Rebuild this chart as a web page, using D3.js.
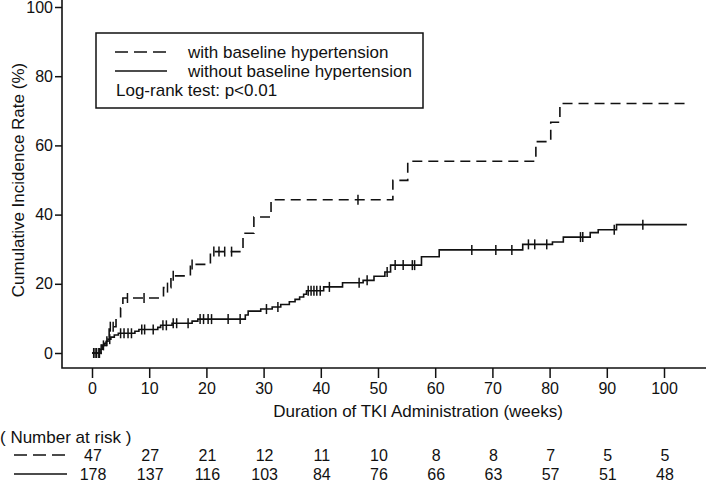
<!DOCTYPE html>
<html>
<head>
<meta charset="utf-8">
<script src="https://cdn.jsdelivr.net/npm/d3@7/dist/d3.min.js"></script>
<style>
	html, body { margin: 0; padding: 0; background: #fff; }
	svg { display: block; font-family: Arial, "Liberation Sans", sans-serif; }
	.axis text { font-size: 16px; fill: #111; }
	.axis line { stroke: #111; stroke-width: 1.5; }
</style>
</head>
<body>
<svg id="chart" width="709" height="484"></svg>
<script>

// ticks
var xTicks = [ 0, 10, 20, 30, 40, 50, 60, 70, 80, 90, 100 ];
var yTicks = [ 0, 20, 40, 60, 80, 100 ];

// last follow-up (weeks)
var endTime = 104;

// with baseline hypertension: [ week, cumulative % after event ]
var withEvents = [
	[ 1.8, 2.2 ], [ 2.5, 4.4 ], [ 3.0, 7.6 ], [ 4.2, 10.1 ], [ 5.0, 13.0 ], [ 5.4, 15.9 ],
	[ 12.5, 18.9 ], [ 13.8, 22.3 ], [ 17.2, 25.6 ], [ 20.7, 29.3 ], [ 26.4, 34.6 ],
	[ 28.3, 39.3 ], [ 31.3, 44.3 ], [ 52.6, 49.9 ], [ 55.2, 55.4 ], [ 77.6, 61.1 ],
	[ 80.2, 66.7 ], [ 81.8, 72.1 ]
];
var withCensors = [ 0.3, 0.8, 1.3, 3.2, 3.7, 6.2, 9.1, 13.2, 14.2, 17.5, 21.3, 22.2, 23.2, 24.4, 46.5 ];

// without baseline hypertension
var withoutEvents = [
	[ 1.4, 1.1 ], [ 1.8, 2.2 ], [ 2.2, 2.8 ], [ 2.5, 3.4 ], [ 2.8, 4.0 ], [ 3.3, 4.6 ],
	[ 3.9, 5.2 ], [ 4.6, 5.7 ], [ 7.5, 6.3 ], [ 8.2, 6.8 ], [ 11.5, 7.4 ], [ 12.0, 8.0 ],
	[ 14.0, 8.6 ], [ 17.5, 9.2 ], [ 18.5, 9.8 ], [ 26.8, 11.0 ], [ 27.3, 12.1 ],
	[ 29.5, 12.7 ], [ 31.5, 13.3 ], [ 33.0, 14.0 ], [ 34.5, 14.8 ], [ 35.5, 15.5 ],
	[ 36.3, 16.2 ], [ 37.0, 17.0 ], [ 37.5, 18.0 ], [ 40.5, 19.1 ], [ 43.8, 20.3 ],
	[ 47.4, 21.0 ], [ 49.3, 22.2 ], [ 51.2, 23.4 ], [ 52.2, 25.4 ], [ 57.6, 27.8 ],
	[ 60.7, 29.8 ], [ 75.3, 31.4 ], [ 80.5, 32.1 ], [ 82.4, 33.5 ], [ 87.1, 34.8 ],
	[ 88.5, 35.6 ], [ 91.7, 37.1 ]
];
var withoutCensors = [
	0.3, 0.7, 1.2, 1.6, 2.0, 2.6, 3.1, 5.0, 5.6, 6.3, 6.9, 8.7, 9.2, 10.7, 12.4, 13.0,
	14.2, 14.8, 16.8, 18.9, 19.5, 20.3, 20.9, 23.8, 25.9, 30.5, 32.5, 37.8, 38.3, 38.8,
	39.3, 39.9, 41.5, 46.7, 48.1, 51.6, 53.0, 54.4, 56.0, 56.4, 66.4, 70.6, 73.4, 76.3,
	77.4, 79.5, 85.4, 85.8, 91.3, 96.3
];

// number at risk
var riskWith = [ 47, 27, 21, 12, 11, 10, 8, 8, 7, 5, 5 ];
var riskWithout = [ 178, 137, 116, 103, 84, 76, 66, 63, 57, 51, 48 ];

var legendLabels = [ 'with baseline hypertension', 'without baseline hypertension' ];
var dash = '10,6';


var svg = d3.select( '#chart' );

var x = d3.scaleLinear().domain( [ 0, 100 ] ).range( [ 92, 664 ] );
var y = d3.scaleLinear().domain( [ 0, 100 ] ).range( [ 353, 7 ] );

var axisX = 62, axisY = 368;

/**
 * Step path points: origin, events, carried to the end of follow-up.
 */
function stepPoints( events ) {
	var pts = [ [ 0, 0 ] ].concat( events );
	pts.push( [ endTime, events[ events.length - 1 ][ 1 ] ] );
	return pts;
}

function levelAt( events, t ) {
	var v = 0;
	events.forEach( function( e ) { if ( e[ 0 ] <= t ) v = e[ 1 ]; } );
	return v;
}

// axes
var gx = svg.append( 'g' )
	.attr( 'class', 'axis' )
	.attr( 'transform', 'translate(0,' + axisY + ')' )
	.call( d3.axisBottom( x ).tickValues( xTicks ).tickSize( 10 ).tickPadding( 5 ) );
gx.select( '.domain' ).remove();
gx.selectAll( 'text' ).attr( 'dy', '0.71em' );

var gy = svg.append( 'g' )
	.attr( 'class', 'axis' )
	.attr( 'transform', 'translate(' + axisX + ',0)' )
	.call( d3.axisLeft( y ).tickValues( yTicks ).tickSize( 7 ).tickPadding( 2 ) );
gy.select( '.domain' ).remove();

svg.append( 'path' )
	.attr( 'd', 'M' + axisX + ',0V' + axisY + 'H706' )
	.attr( 'fill', 'none' )
	.attr( 'stroke', '#111' )
	.attr( 'stroke-width', 1.6 );

svg.append( 'text' )
	.attr( 'transform', 'translate(24,' + y( 50 ) + ') rotate(-90)' )
	.attr( 'text-anchor', 'middle' )
	.attr( 'font-size', 17 )
	.attr( 'fill', '#111' )
	.text( 'Cumulative Incidence Rate (%)' );

svg.append( 'text' )
	.attr( 'x', x( 57 ) )
	.attr( 'y', 417 )
	.attr( 'text-anchor', 'middle' )
	.attr( 'font-size', 17 )
	.attr( 'fill', '#111' )
	.text( 'Duration of TKI Administration (weeks)' );

// curves
var line = d3.line()
	.x( function( d ) { return x( d[ 0 ] ); } )
	.y( function( d ) { return y( d[ 1 ] ); } )
	.curve( d3.curveStepAfter );

var series = [
	{ events: withEvents, censors: withCensors, dash: dash },
	{ events: withoutEvents, censors: withoutCensors, dash: null }
];

series.forEach( function( s ) {
	svg.append( 'path' )
		.attr( 'd', line( stepPoints( s.events ) ) )
		.attr( 'fill', 'none' )
		.attr( 'stroke', '#111' )
		.attr( 'stroke-width', 1.6 )
		.attr( 'stroke-dasharray', s.dash );

	svg.append( 'g' ).selectAll( 'line' )
		.data( s.censors )
		.enter()
		.append( 'line' )
			.attr( 'x1', function( t ) { return x( t ); } )
			.attr( 'x2', function( t ) { return x( t ); } )
			.attr( 'y1', function( t ) { return y( levelAt( s.events, t ) ) - 5; } )
			.attr( 'y2', function( t ) { return y( levelAt( s.events, t ) ) + 5; } )
			.attr( 'stroke', '#111' )
			.attr( 'stroke-width', 1.5 );
} );

// legend
svg.append( 'rect' )
	.attr( 'x', 96 ).attr( 'y', 33 )
	.attr( 'width', 327 ).attr( 'height', 75 )
	.attr( 'fill', 'none' )
	.attr( 'stroke', '#111' )
	.attr( 'stroke-width', 1.5 );

legendLabels.forEach( function( label, i ) {
	var ly = 52 + i * 19;
	svg.append( 'line' )
		.attr( 'x1', 115 ).attr( 'x2', 167 )
		.attr( 'y1', ly ).attr( 'y2', ly )
		.attr( 'stroke', '#111' )
		.attr( 'stroke-width', 1.5 )
		.attr( 'stroke-dasharray', i === 0 ? '13,6' : null );
	svg.append( 'text' )
		.attr( 'x', 188 ).attr( 'y', ly + 6 )
		.attr( 'font-size', 17 )
		.attr( 'fill', '#111' )
		.text( label );
} );

svg.append( 'text' )
	.attr( 'x', 116 ).attr( 'y', 96 )
	.attr( 'font-size', 17 )
	.attr( 'fill', '#111' )
	.text( 'Log-rank test: p<0.01' );

// number at risk table
svg.append( 'text' )
	.attr( 'x', 0 ).attr( 'y', 443 )
	.attr( 'font-size', 17 )
	.attr( 'fill', '#111' )
	.text( '( Number at risk )' );

[ riskWith, riskWithout ].forEach( function( row, i ) {
	var ry = 455 + i * 19;
	svg.append( 'line' )
		.attr( 'x1', 14 ).attr( 'x2', 67 )
		.attr( 'y1', ry ).attr( 'y2', ry )
		.attr( 'stroke', '#111' )
		.attr( 'stroke-width', 1.5 )
		.attr( 'stroke-dasharray', i === 0 ? '13,6' : null );
	svg.append( 'g' ).selectAll( 'text' )
		.data( row )
		.enter()
		.append( 'text' )
			.attr( 'x', function( d, j ) { return x( xTicks[ j ] ) + 1; } )
			.attr( 'y', ry + 6 )
			.attr( 'text-anchor', 'middle' )
			.attr( 'font-size', 16 )
			.attr( 'fill', '#111' )
			.text( function( d ) { return d; } );
} );

</script>
</body>
</html>
